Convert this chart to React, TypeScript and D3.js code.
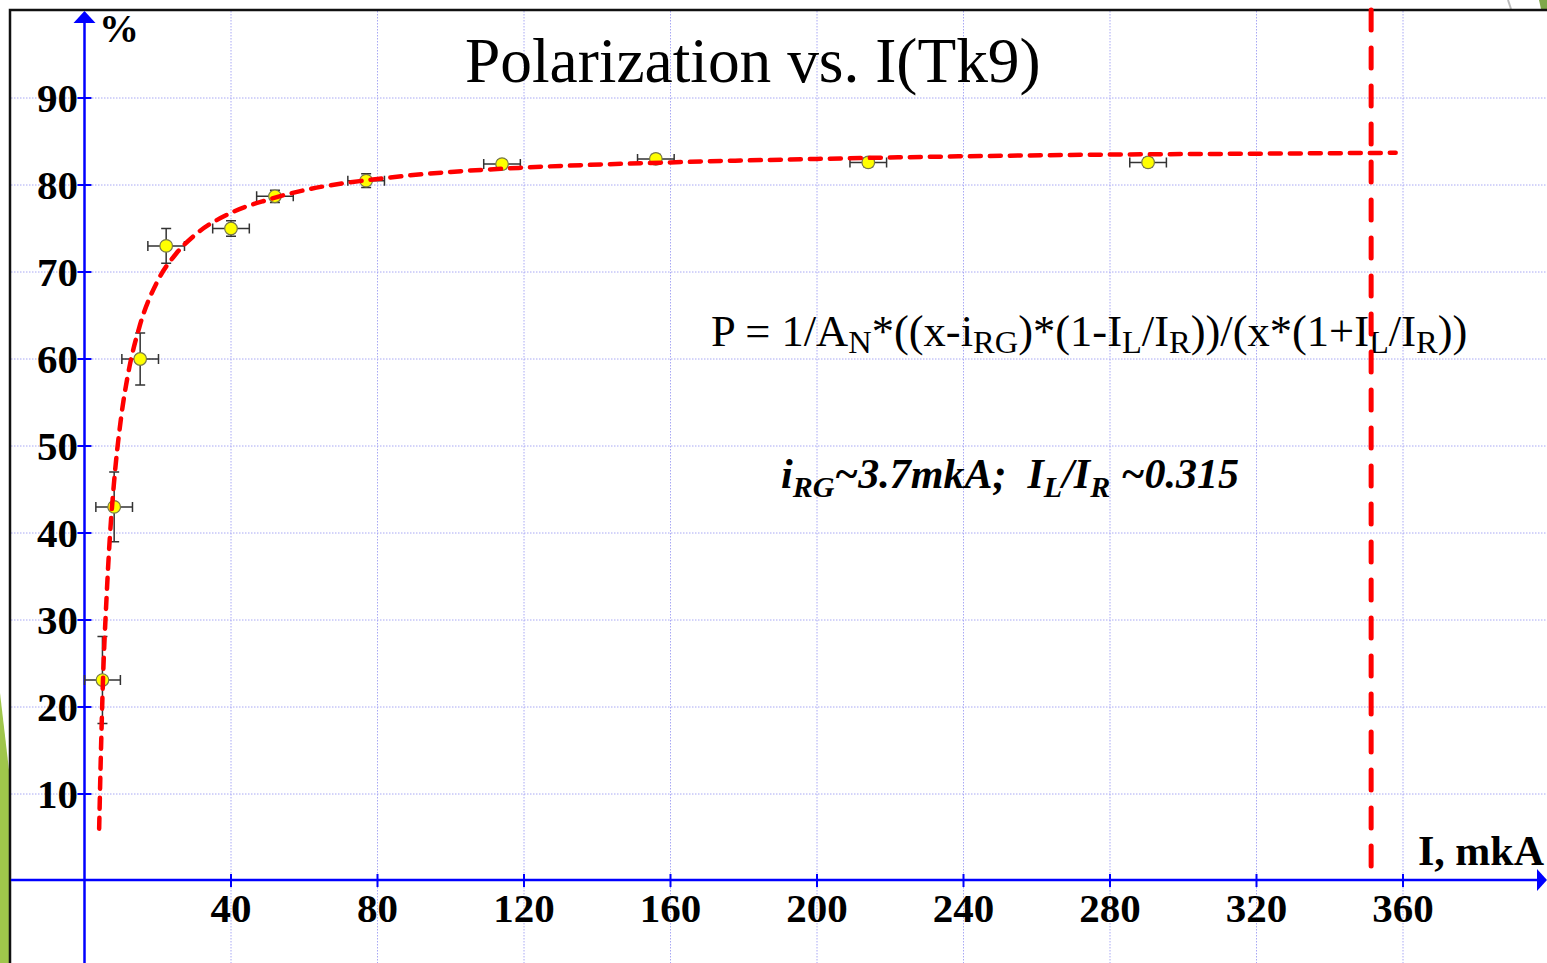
import React, { useEffect, useRef } from "react";
import * as d3 from "d3";

// measured points (current, polarization) with error bars
const currentI = [4.9, 8.1, 15.2, 22.3, 40, 52, 76.9, 114, 156, 214, 290.4];
const polarP = [23.1, 43, 60, 73, 75, 78.7, 80.5, 82.4, 83, 82.6, 82.6];
const errI = [4.9, 5, 5, 5, 5, 5, 5, 5, 5, 5, 5];
const errP = [5, 4, 3, 2, 0.9, 0.7, 0.8, 0.5, 0.5, 0.5, 0.5];

// fitted curve
const fitI = [4, 4.5, 5, 6, 7, 8, 10, 12, 15, 20, 25, 30, 40, 50, 60, 80, 100, 120, 160, 200, 240, 280, 320, 358];
const fitP = [6, 15, 22.5, 32.4, 40, 45.5, 53.3, 58.5, 63.7, 69, 72.1, 74.2, 76.8, 78.3, 79.4, 80.7, 81.5, 82, 82.6, 83, 83.3, 83.5, 83.6, 83.7];

const limitI = 351.3;

const xTicks = [40, 80, 120, 160, 200, 240, 280, 320, 360];
const yTicks = [10, 20, 30, 40, 50, 60, 70, 80, 90];

const title = "Polarization vs. I(Tk9)";
const formula: [string, boolean][] = [
  ["P = 1/A", false], ["N", true], ["*((x-i", false], ["RG", true],
  [")*(1-I", false], ["L", true], ["/I", false], ["R", true],
  ["))/(x*(1+I", false], ["L", true], ["/I", false], ["R", true], ["))", false],
];
const params: [string, boolean][] = [
  ["i", false], ["RG", true], ["~3.7mkA;  I", false], ["L", true],
  ["/I", false], ["R", true], [" ~0.315", false],
];

const W = 1547, H = 963;
const serif = "'Liberation Serif', 'Times New Roman', serif";

function addRich(g, parts, x, y, size, subSize, shift, style) {
  const t = g.append("text")
    .attr("x", x).attr("y", y)
    .style("font-family", serif)
    .style("font-size", size + "px")
    .style("white-space", "pre")
    .attr("fill", "#000");
  if (style.bold) t.style("font-weight", "bold");
  if (style.italic) t.style("font-style", "italic");
  let down = false;
  parts.forEach(([s, sub]) => {
    const ts = t.append("tspan").text(s);
    if (sub) {
      ts.style("font-size", subSize + "px");
      if (!down) ts.attr("dy", shift);
      down = true;
    } else {
      if (down) ts.attr("dy", -shift);
      down = false;
    }
  });
}

export default function App() {
  const ref = useRef<SVGSVGElement>(null);

  useEffect(() => {
    const svg = d3.select(ref.current);
    svg.selectAll("*").remove();

    const x = d3.scaleLinear().domain([0, 360]).range([84.5, 1403]);
    const y = d3.scaleLinear().domain([0, 90]).range([881, 98]);
    const x0 = x(0), y0 = y(0);

    svg.append("rect").attr("width", W).attr("height", H).attr("fill", "#fff");

    // slide decorations
    svg.append("polygon").attr("points", "0,693 9,770 9,963 0,963").attr("fill", "#9fc64b");
    svg.append("polygon").attr("points", "1539,0 1547,0 1547,9 1541,9").attr("fill", "#7fa84a");
    svg.append("line").attr("x1", 1508).attr("y1", 0).attr("x2", 1511).attr("y2", 9)
      .attr("stroke", "#bbb").attr("stroke-width", 2);

    // grid
    const grid = svg.append("g").attr("stroke", "#a8a8f4").attr("stroke-width", 1)
      .attr("stroke-dasharray", "1.5 1.5");
    grid.selectAll(".vg").data(xTicks).join("line").attr("class", "vg")
      .attr("x1", d => x(d)).attr("x2", d => x(d)).attr("y1", 11).attr("y2", H);
    grid.selectAll(".hg").data(yTicks).join("line").attr("class", "hg")
      .attr("x1", 11).attr("x2", W).attr("y1", d => y(d)).attr("y2", d => y(d));

    // frame
    svg.append("path").attr("d", `M10,${H} L10,10 L${W},10`)
      .attr("fill", "none").attr("stroke", "#111").attr("stroke-width", 2.5);

    // axes
    const blue = "#0000ff";
    svg.append("line").attr("x1", x0).attr("x2", x0).attr("y1", 20).attr("y2", H)
      .attr("stroke", blue).attr("stroke-width", 2.5);
    svg.append("polygon").attr("points", `${x0},11 ${x0 - 11},23 ${x0 + 11},23`).attr("fill", blue);
    svg.append("line").attr("x1", 11).attr("x2", W - 8).attr("y1", y0 - 1).attr("y2", y0 - 1)
      .attr("stroke", blue).attr("stroke-width", 2.5);
    svg.append("polygon").attr("points", `${W},${y0 - 1} ${W - 10},${y0 - 12} ${W - 10},${y0 + 10}`).attr("fill", blue);

    svg.selectAll(".yt").data(yTicks).join("line").attr("class", "yt")
      .attr("x1", x0 - 7).attr("x2", x0 + 7).attr("y1", d => y(d)).attr("y2", d => y(d))
      .attr("stroke", blue).attr("stroke-width", 2);
    svg.selectAll(".xt").data(xTicks).join("line").attr("class", "xt")
      .attr("x1", d => x(d)).attr("x2", d => x(d)).attr("y1", y0 - 7).attr("y2", y0 + 6)
      .attr("stroke", blue).attr("stroke-width", 2);

    svg.selectAll(".yl").data(yTicks).join("text").attr("class", "yl")
      .attr("x", 78).attr("y", d => y(d) + 14)
      .attr("text-anchor", "end")
      .style("font-family", serif).style("font-weight", "bold").style("font-size", "41px")
      .text(d => d);
    svg.selectAll(".xl").data(xTicks).join("text").attr("class", "xl")
      .attr("x", d => x(d)).attr("y", 922)
      .attr("text-anchor", "middle")
      .style("font-family", serif).style("font-weight", "bold").style("font-size", "41px")
      .text(d => d);

    svg.append("text").attr("x", 99).attr("y", 42)
      .style("font-family", serif).style("font-weight", "bold").style("font-size", "40px")
      .text("%");
    svg.append("text").attr("x", 1418).attr("y", 865)
      .style("font-family", serif).style("font-weight", "bold").style("font-size", "42px")
      .text("I, mkA");

    // title and formula
    svg.append("text").attr("x", 465).attr("y", 82)
      .style("font-family", serif).style("font-size", "63.4px")
      .text(title);
    addRich(svg, formula, 711, 346, 44.5, 32.5, 7, {});
    addRich(svg, params, 781, 488, 42, 30, 9, { bold: true, italic: true });

    // error bars
    const eb = svg.append("g").attr("stroke", "#333").attr("stroke-width", 1.5);
    const idx = d3.range(currentI.length);
    eb.selectAll(".ex").data(idx).join("path").attr("class", "ex")
      .attr("d", i => {
        const a = x(currentI[i] - errI[i]), b = x(currentI[i] + errI[i]), c = y(polarP[i]);
        return `M${a},${c}H${b}M${a},${c - 5}V${c + 5}M${b},${c - 5}V${c + 5}`;
      });
    eb.selectAll(".ey").data(idx).join("path").attr("class", "ey")
      .attr("d", i => {
        const a = y(polarP[i] + errP[i]), b = y(polarP[i] - errP[i]), c = x(currentI[i]);
        return `M${c},${a}V${b}M${c - 5},${a}H${c + 5}M${c - 5},${b}H${c + 5}`;
      });

    svg.selectAll(".pt").data(idx).join("circle").attr("class", "pt")
      .attr("cx", i => x(currentI[i])).attr("cy", i => y(polarP[i]))
      .attr("r", 6.3).attr("fill", "#ffff00").attr("stroke", "#77774a").attr("stroke-width", 1.2);

    // fit curve
    const line = d3.line<number>()
      .x(i => x(fitI[i])).y(i => y(fitP[i]))
      .curve(d3.curveMonotoneX);
    svg.append("path").attr("d", line(d3.range(fitI.length)))
      .attr("fill", "none").attr("stroke", "#ff0000").attr("stroke-width", 4.5)
      .attr("stroke-dasharray", "11 9").attr("stroke-linecap", "round");

    // limit line
    svg.append("line").attr("x1", x(limitI)).attr("x2", x(limitI)).attr("y1", 10).attr("y2", 870)
      .attr("stroke", "#ff0000").attr("stroke-width", 5)
      .attr("stroke-dasharray", "20 18").attr("stroke-linecap", "round");
  }, []);

  return (
    <svg ref={ref} width={W} height={H}
      style={{ position: "absolute", left: 0, top: 0, display: "block" }} />
  );
}
